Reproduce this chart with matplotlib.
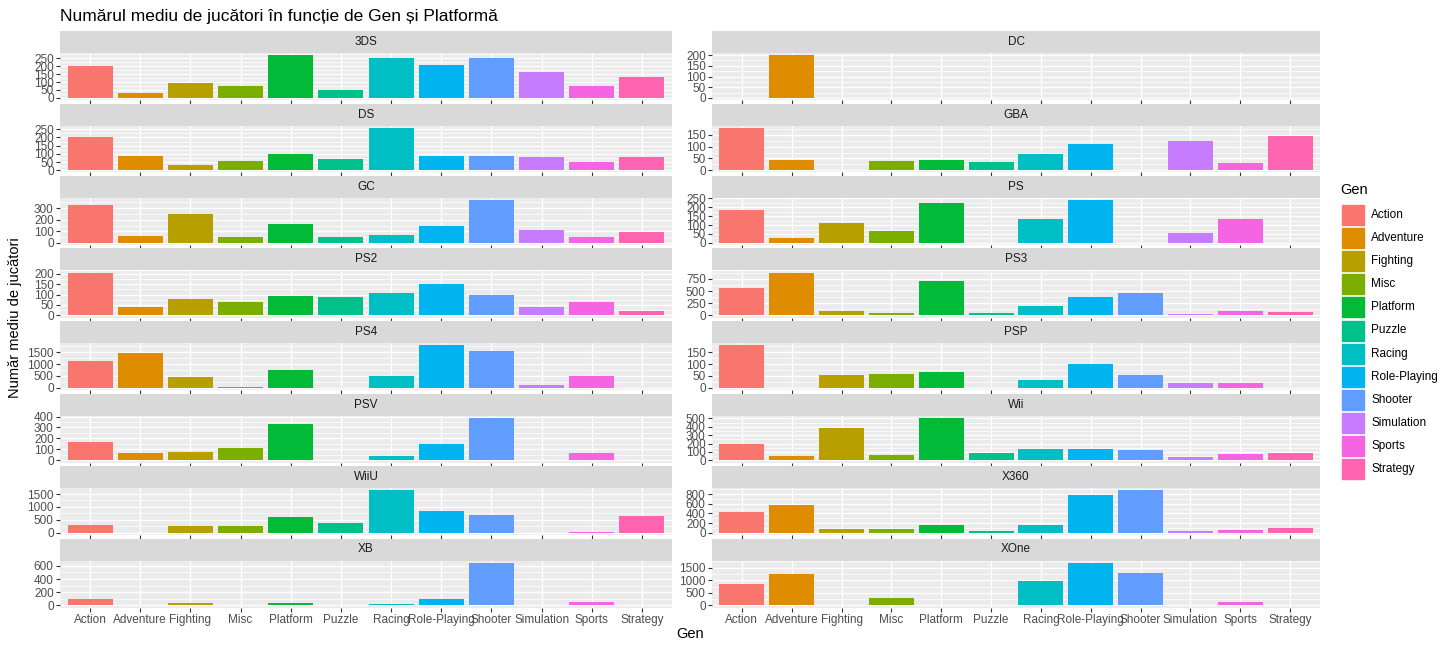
import numpy as np
import matplotlib
matplotlib.use('Agg')
from matplotlib import pyplot as plt
from matplotlib.patches import Rectangle
from matplotlib.ticker import MultipleLocator

plt.rcParams['font.family'] = ['Liberation Sans', 'DejaVu Sans']

genres = ['Action', 'Adventure', 'Fighting', 'Misc', 'Platform', 'Puzzle', 'Racing',
          'Role-Playing', 'Shooter', 'Simulation', 'Sports', 'Strategy']
colors = ['#F8766D', '#DE8C00', '#B79F00', '#7CAE00', '#00BA38', '#00C08B',
          '#00BFC4', '#00B4F0', '#619CFF', '#C77CFF', '#F564E3', '#FF64B0']

platforms = ['3DS', 'DC', 'DS', 'GBA', 'GC', 'PS', 'PS2', 'PS3',
             'PS4', 'PSP', 'PSV', 'Wii', 'WiiU', 'X360', 'XB', 'XOne']
N = np.nan
v_3ds = [200, 30, 95, 75, 270, 50, 255, 210, 250, 165, 75, 135]
v_dc = [N, 200, N, N, N, N, N, N, N, N, N, N]
v_ds = [205, 90, 30, 60, 100, 70, 260, 85, 85, 80, 50, 80]
v_gba = [180, 45, N, 40, 45, 35, 70, 110, N, 125, 30, 145]
v_gc = [330, 60, 250, 50, 160, 50, 70, 150, 370, 110, 50, 90]
v_ps = [185, 30, 110, 65, 225, N, 135, 240, N, 55, 135, N]
v_ps2 = [205, 40, 80, 65, 95, 90, 105, 150, 100, 40, 65, 20]
v_ps3 = [570, 880, 100, 50, 700, 50, 200, 380, 460, 20, 100, 60]
v_ps4 = [1150, 1450, 450, 50, 750, N, 500, 1800, 1550, 100, 500, N]
v_psp = [180, N, 55, 60, 65, N, 35, 100, 55, 20, 20, N]
v_psv = [165, 65, 80, 110, 330, N, 40, 150, 390, N, 70, N]
v_wii = [195, 50, 390, 60, 510, 90, 130, 130, 125, 40, 70, 90]
v_wiiu = [300, N, 250, 250, 600, 400, 1650, 850, 700, N, 50, 650]
v_x360 = [430, 580, 70, 70, 170, 30, 170, 770, 880, 30, 60, 110]
v_xb = [100, N, 30, N, 30, N, 15, 100, 650, N, 50, N]
v_xone = [850, 1250, N, 300, N, N, 950, 1700, 1300, N, 150, N]
values = [v_3ds, v_dc, v_ds, v_gba, v_gc, v_ps, v_ps2, v_ps3,
          v_ps4, v_psp, v_psv, v_wii, v_wiiu, v_x360, v_xb, v_xone]
steps = [50, 50, 50, 50, 100, 50, 50, 250, 500, 50, 100, 100, 500, 200, 200, 500]

W, H = 1452, 650
fig = plt.figure(figsize=(W / 100, H / 100), dpi=100)
cols_x = [(60, 672), (712, 1320)]
top0, pitch, strip_h, panel_h = 31, 72.5, 22, 47

x = np.arange(len(genres))
for i, p in enumerate(platforms):
    r, c = divmod(i, 2)
    x0, x1 = cols_x[c]
    st = top0 + r * pitch
    sax = fig.add_axes([x0 / W, 1 - (st + strip_h) / H, (x1 - x0) / W, strip_h / H])
    sax.set_facecolor('#D9D9D9')
    sax.set_xticks([]); sax.set_yticks([])
    for s in sax.spines.values():
        s.set_visible(False)
    sax.text(0.5, 0.5, p, ha='center', va='center', fontsize=8.5, color='#1A1A1A')
    ax = fig.add_axes([x0 / W, 1 - (st + strip_h + panel_h) / H, (x1 - x0) / W, panel_h / H])
    ax.set_facecolor('#EBEBEB')
    vals = np.array(values[i], dtype=float)
    ax.bar(x, np.nan_to_num(vals), width=0.9, color=colors, zorder=3)
    m = np.nanmax(vals)
    ax.set_ylim(-0.05 * m, 1.05 * m)
    ax.set_xlim(-0.6, 11.6)
    ax.yaxis.set_major_locator(MultipleLocator(steps[i]))
    ax.yaxis.set_minor_locator(MultipleLocator(steps[i] / 2))
    ax.grid(True, which='major', color='white', lw=1.0, zorder=0)
    ax.grid(True, which='minor', axis='y', color='white', lw=0.5, zorder=0)
    ax.set_xticks(x)
    ax.tick_params(axis='both', which='major', length=3, color='#333333',
                   labelsize=8.5, labelcolor='#4D4D4D', pad=1.5)
    ax.tick_params(axis='y', which='minor', length=0)
    if r == 7:
        ax.set_xticklabels(genres, fontsize=8.5)
    else:
        ax.set_xticklabels([])
    for s in ax.spines.values():
        s.set_visible(False)

fig.text(60 / W, 1 - 16 / H, 'Numărul mediu de jucători în funcție de Gen și Platformă',
         fontsize=12.5, va='center', ha='left')
fig.text(690 / W, 1 - 634 / H, 'Gen', fontsize=10.5, ha='center', va='center')
fig.text(15 / W, 1 - 318 / H, 'Număr mediu de jucători', fontsize=10.5, rotation=90,
         ha='center', va='center')

fig.text(1340 / W, 1 - 190 / H, 'Gen', fontsize=10.5, va='center')
for k, g in enumerate(genres):
    yc = 215 + k * 23.1
    fig.patches.append(Rectangle((1342 / W, 1 - (yc + 10) / H), 22 / W, 20 / H,
                                 transform=fig.transFigure, color=colors[k]))
    fig.text(1371 / W, 1 - yc / H, g, fontsize=8.5, va='center')

fig.savefig('out.png', dpi=100)
